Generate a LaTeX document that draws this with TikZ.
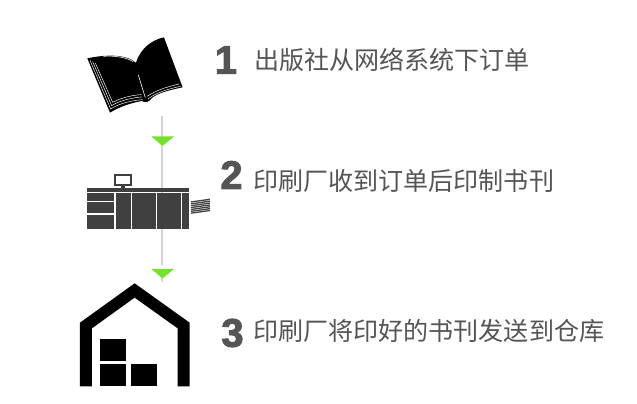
\documentclass[tikz,border=0pt]{standalone}
\usepackage{fontspec}
\setmainfont{Liberation Sans}
\newfontfamily\cjkfont{Noto Sans CJK SC}
\newfontfamily\numfont[FakeBold=2.5]{Liberation Sans Bold}
\usetikzlibrary{positioning}
\definecolor{stepgray}{HTML}{555555}
\definecolor{machinegray}{HTML}{404040}
\definecolor{linegray}{HTML}{D4D4D4}
\definecolor{arrowgreen}{HTML}{76E02E}
\tikzset{
  numlabel/.style={text=stepgray, inner sep=0pt, font=\fontsize{34}{34}\selectfont\numfont},
  steplabel/.style={text=stepgray, inner sep=0pt, anchor=west, font=\fontsize{21.4}{22}\selectfont\cjkfont},
  flowline/.style={draw=linegray, line width=1.2pt},
  machine/.style={fill=machinegray},
  zoomed/.style={x=0.01cm, y=-0.01cm}
}
\begin{document}
\begin{tikzpicture}[x=0.03cm, y=-0.03cm]
\useasboundingbox (0,0) rectangle (637,404);
\fill[white] (0,0) rectangle (637,404);
% flow line
\coordinate (line1a) at (162,116);
\coordinate (line1b) at (162,137);
\coordinate (line2a) at (162,146);
\coordinate (line2b) at (162,265);
\coordinate (line3a) at (162,278);
\coordinate (line3b) at (162,282);
\draw[flowline] (line1a) -- (line1b);
\draw[flowline] (line2a) -- (line2b);
\draw[flowline] (line3a) -- (line3b);
\fill[arrowgreen] (151.5,136.5) -- (174,136.5) -- (162.5,146) -- cycle;
\fill[arrowgreen] (151.5,269) -- (174,269) -- (162.5,278.5) -- cycle;
% book
\begin{scope}[shift={(70,25)}, zoomed]
\fill[black] (52,100) .. controls (100,90) and (165,85) .. (198,113) .. controls (212,70) and (245,45) .. (282,37) -- (338,187) .. controls (300,195) and (260,205) .. (245,220) .. controls (238,232) and (225,234) .. (215,228) .. controls (180,235) and (150,245) .. (120,263) -- cycle;
\draw[white, line width=0.5pt] (100,94) .. controls (130,92) and (165,95) .. (190,110);
\draw[white, line width=0.5pt] (205,150) -- (226,218);
\draw[white, line width=0.4pt] (60,106) -- (122,252) .. controls (150,234) and (190,226) .. (218,224);
\draw[white, line width=0.4pt] (68,110) -- (125,242) .. controls (150,226) and (190,218) .. (216,216);
\draw[white, line width=0.4pt] (76,114) -- (128,232) .. controls (155,218) and (190,210) .. (214,209);
\draw[white, line width=0.4pt] (234,222) .. controls (260,202) and (295,192) .. (332,184);
\draw[white, line width=0.4pt] (232,214) .. controls (258,196) and (290,186) .. (328,177);
\end{scope}
% printer
\begin{scope}[shift={(70,150)}, zoomed]
\fill[machine] (52,115) rectangle (358,126);
\fill[machine] (52,130) rectangle (133,153);
\fill[machine] (52,157) rectangle (133,190);
\fill[machine] (52,195) rectangle (133,238);
\fill[machine] (138,130) rectangle (183,238);
\fill[machine] (187,130) rectangle (257,238);
\fill[machine] (262,130) rectangle (332,238);
\fill[machine] (337,130) rectangle (358,238);
\fill[machine] (153,106) rectangle (165,115);
\draw[machinegray, line width=1.5pt] (136,74) rectangle (182,106);
\foreach \i in {0,...,6} {
  \draw[machinegray, line width=1.1pt] (363,156+5.6*\i) -- (420,148+5.6*\i);
}
\end{scope}
% warehouse
\begin{scope}[shift={(70,275)}, zoomed]
\fill[black] (30,143) -- (194,25) -- (359,143) -- (359,334) -- (323,334) -- (323,160) -- (194,68) -- (66,160) -- (66,334) -- (30,334) -- cycle;
\fill[black] (89,192) rectangle (167,258);
\fill[black] (89,268) rectangle (167,334);
\fill[black] (183,268) rectangle (261,334);
\end{scope}
% labels
\node[numlabel] (n1) at (226,60) {1};
\node[steplabel] (t1) at (254,60) {出版社从网络系统下订单};
\node[numlabel] (n2) at (231.5,175) {2};
\node[steplabel] (t2) at (253,181) {印刷厂收到订单后印制书刊};
\node[numlabel] (n3) at (232.5,333) {3};
\node[steplabel] (t3) at (253,331) {印刷厂将印好的书刊发送到仓库};
\end{tikzpicture}
\end{document}
